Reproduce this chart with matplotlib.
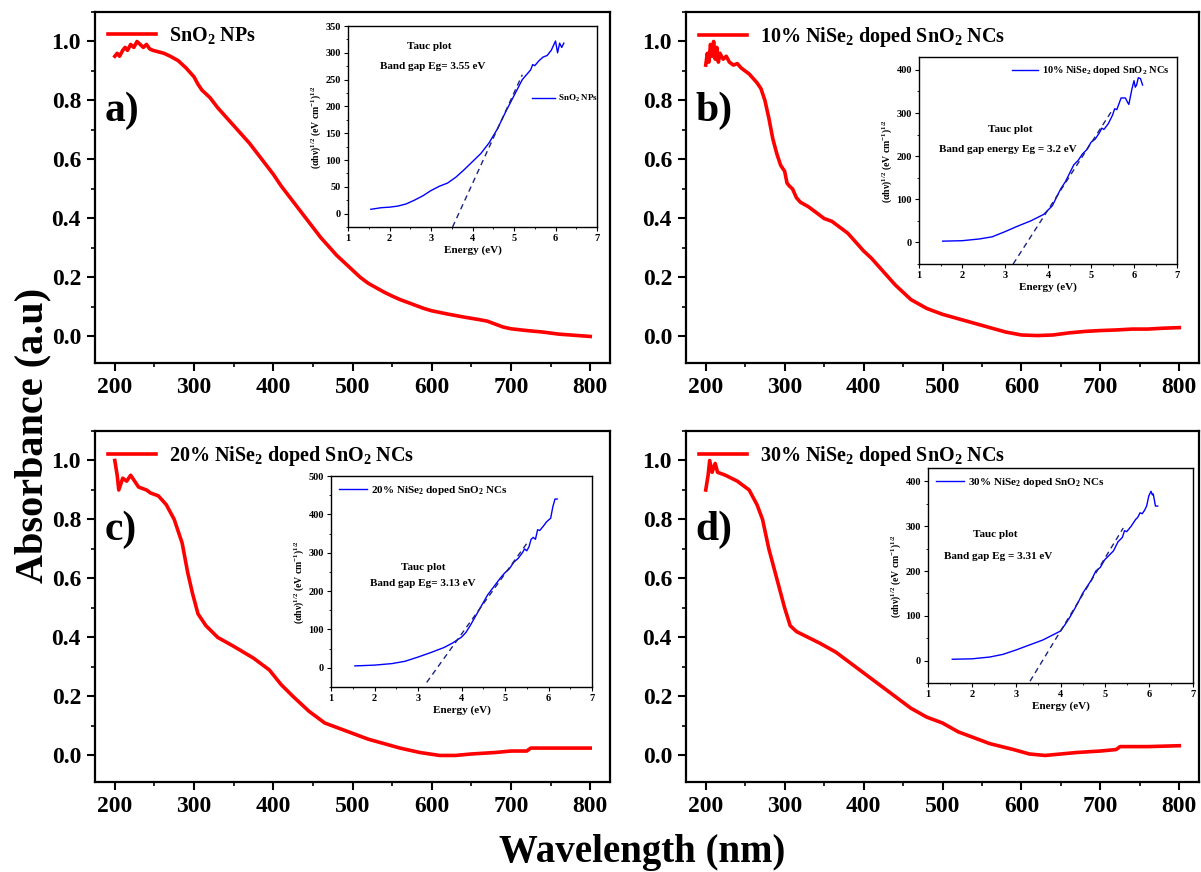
import matplotlib
matplotlib.use("Agg")
import matplotlib.pyplot as plt
from matplotlib.ticker import MultipleLocator

plt.rcParams['font.family'] = ['Liberation Serif', 'DejaVu Serif']
plt.rcParams['font.weight'] = 'bold'
plt.rcParams['mathtext.fontset'] = 'custom'
plt.rcParams['mathtext.rm'] = 'Liberation Serif:bold'
plt.rcParams['mathtext.it'] = 'Liberation Serif:bold:italic'
plt.rcParams['mathtext.bf'] = 'Liberation Serif:bold'

# ---------------- UV-Vis data ----------------
wl_a = [200, 203, 206, 210, 213, 216, 220, 224, 228, 232, 236, 240, 244, 248, 255, 262, 270, 280, 290, 300,
        305, 310, 320, 330, 340, 350, 360, 370, 380, 390, 400, 410, 420, 430, 440, 450, 460, 470, 480, 490,
        500, 510, 520, 530, 540, 550, 560, 570, 580, 590, 600, 620, 640, 660, 670, 680, 690, 700, 720, 740,
        760, 780, 800]
abs_a = [0.95, 0.96, 0.95, 0.97, 0.98, 0.97, 0.99, 0.98, 1.00, 0.99, 0.98, 0.99, 0.975, 0.97, 0.965, 0.96,
         0.95, 0.935, 0.91, 0.88, 0.855, 0.835, 0.81, 0.775, 0.745, 0.715, 0.685, 0.655, 0.62, 0.585, 0.55, 0.51,
         0.475, 0.44, 0.405, 0.37, 0.335, 0.305, 0.275, 0.25, 0.225, 0.20, 0.18, 0.165, 0.15, 0.137, 0.125,
         0.115, 0.105, 0.095, 0.087, 0.076, 0.066, 0.057, 0.052, 0.042, 0.032, 0.026, 0.02, 0.015, 0.008,
         0.004, 0.0]

wl_b = [200, 202, 204, 206, 208, 210, 212, 214, 216, 218, 222, 226, 230, 235, 240, 245, 250, 255, 260, 265,
        270, 275, 280, 285, 290, 295, 300, 303, 306, 310, 315, 320, 330, 340, 350, 360, 370, 380, 390, 400,
        410, 420, 430, 440, 450, 460, 470, 480, 490, 500, 520, 540, 560, 580, 600, 620, 640, 660, 680, 700,
        720, 740, 760, 780, 800]
abs_b = [0.92, 0.96, 0.93, 0.99, 0.95, 1.00, 0.94, 0.98, 0.93, 0.96, 0.94, 0.95, 0.93, 0.92, 0.925, 0.91,
         0.90, 0.89, 0.875, 0.86, 0.84, 0.80, 0.74, 0.67, 0.62, 0.58, 0.56, 0.52, 0.51, 0.50, 0.47, 0.455,
         0.44, 0.42, 0.40, 0.39, 0.37, 0.35, 0.32, 0.29, 0.265, 0.235, 0.205, 0.175, 0.15, 0.125, 0.11, 0.095,
         0.085, 0.075, 0.06, 0.045, 0.03, 0.015, 0.005, 0.003, 0.005, 0.012, 0.017, 0.02, 0.022, 0.025,
         0.025, 0.028, 0.03]

wl_c = [200, 203, 205, 210, 215, 220, 230, 240, 245, 255, 265, 275, 285, 292, 298, 305, 315, 330, 350, 375,
        395, 410, 425, 445, 465, 485, 505, 520, 540, 560, 585, 610, 630, 650, 680, 700, 720, 725, 760, 800]
abs_c = [1.00, 0.95, 0.90, 0.94, 0.93, 0.95, 0.91, 0.90, 0.89, 0.88, 0.85, 0.80, 0.72, 0.62, 0.55, 0.48,
         0.44, 0.40, 0.37, 0.33, 0.29, 0.24, 0.20, 0.15, 0.11, 0.09, 0.07, 0.055, 0.04, 0.025, 0.01, 0.0,
         0.0, 0.005, 0.01, 0.015, 0.015, 0.025, 0.025, 0.025]

wl_d = [200, 203, 205, 208, 212, 215, 225, 240, 255, 265, 272, 280, 290, 300, 307, 315, 330, 345, 365, 385,
        400, 420, 440, 460, 480, 500, 520, 540, 560, 590, 610, 630, 650, 670, 700, 720, 725, 760, 800]
abs_d = [0.90, 0.95, 1.00, 0.96, 0.99, 0.96, 0.95, 0.93, 0.90, 0.85, 0.80, 0.70, 0.60, 0.50, 0.44, 0.42,
         0.40, 0.38, 0.35, 0.31, 0.28, 0.24, 0.20, 0.16, 0.13, 0.11, 0.08, 0.06, 0.04, 0.02, 0.005, 0.0,
         0.005, 0.01, 0.015, 0.02, 0.03, 0.03, 0.033]

labels_main = ["SnO$_\\mathregular{2}$ NPs",
               "10% NiSe$_\\mathregular{2}$ doped SnO$_\\mathregular{2}$ NCs",
               "20% NiSe$_\\mathregular{2}$ doped SnO$_\\mathregular{2}$ NCs",
               "30% NiSe$_\\mathregular{2}$ doped SnO$_\\mathregular{2}$ NCs"]
panel_tags = ["a)", "b)", "c)", "d)"]

# ---------------- Tauc data ----------------
E_a = [1.55, 1.8, 2.0, 2.2, 2.4, 2.6, 2.8, 3.0, 3.2, 3.4, 3.6, 3.8, 4.0, 4.2, 4.4, 4.5, 4.6, 4.8, 5.0, 5.2,
       5.4, 5.45, 5.5, 5.6, 5.7, 5.8, 5.9, 6.0, 6.05, 6.1, 6.15, 6.2]
T_a = [8, 11, 12, 14, 18, 25, 33, 43, 51, 57, 68, 82, 97, 112, 132, 145, 158, 190, 220, 250, 268, 278, 276,
       285, 292, 295, 305, 322, 300, 318, 310, 318]
E_b = [1.55, 2.0, 2.4, 2.7, 3.0, 3.3, 3.6, 3.9, 4.0, 4.1, 4.2, 4.3, 4.4, 4.5, 4.6, 4.7, 4.8, 4.9, 5.0, 5.1,
       5.2, 5.25, 5.3, 5.4, 5.5, 5.55, 5.6, 5.7, 5.8, 5.85, 5.88, 5.95, 6.0, 6.03, 6.06, 6.1, 6.15, 6.2]
T_b = [3, 4, 8, 13, 25, 38, 50, 65, 75, 85, 105, 125, 140, 160, 180, 190, 205, 215, 232, 240, 255, 265, 262,
       275, 295, 310, 308, 335, 335, 325, 320, 355, 375, 360, 365, 382, 380, 365]
E_c = [1.55, 2.0, 2.4, 2.7, 3.0, 3.3, 3.6, 3.8, 4.0, 4.1, 4.2, 4.3, 4.4, 4.5, 4.6, 4.7, 4.8, 4.9, 5.0, 5.1,
       5.2, 5.3, 5.4, 5.45, 5.5, 5.55, 5.6, 5.65, 5.7, 5.75, 5.8, 5.9, 5.95, 6.0, 6.05, 6.1, 6.15, 6.2]
T_c = [5, 7, 11, 17, 28, 40, 53, 65, 80, 92, 110, 130, 150, 170, 190, 205, 220, 235, 248, 258, 275, 285,
       300, 310, 305, 315, 335, 340, 335, 360, 358, 372, 380, 385, 390, 420, 440, 440]
E_d = [1.55, 2.0, 2.4, 2.7, 3.0, 3.3, 3.6, 3.8, 4.0, 4.1, 4.2, 4.3, 4.4, 4.5, 4.6, 4.7, 4.8, 4.9, 5.0, 5.1,
       5.2, 5.3, 5.4, 5.45, 5.5, 5.6, 5.7, 5.75, 5.8, 5.85, 5.9, 5.95, 6.0, 6.05, 6.08, 6.1, 6.15, 6.2]
T_d = [3, 4, 8, 14, 24, 35, 46, 56, 66, 80, 95, 112, 130, 150, 165, 180, 200, 208, 225, 235, 245, 265, 275,
       290, 288, 300, 315, 320, 330, 328, 335, 345, 368, 378, 370, 372, 345, 345]

fit_a_x = [3.52, 5.20]; fit_a_y = [-25, 259]
fit_b_x = [3.19, 5.49]; fit_b_y = [-50, 306]
fit_c_x = [3.20, 5.50]; fit_c_y = [-38, 324]
fit_d_x = [3.31, 5.42]; fit_d_y = [-46, 296]

tauc_labels = ["SnO$_\\mathregular{2}$ NPs",
               "10% NiSe$_\\mathregular{2}$ doped SnO$_\\mathregular{2}$ NCs",
               "20% NiSe$_\\mathregular{2}$ doped SnO$_\\mathregular{2}$ NCs",
               "30% NiSe$_\\mathregular{2}$ doped SnO$_\\mathregular{2}$ NCs"]
gap_texts = ["Band gap Eg= 3.55 eV", "Band gap energy Eg = 3.2 eV",
             "Band gap Eg= 3.13 eV", "Band gap Eg = 3.31 eV"]
tauc_pos = [(2.96, 311), (3.12, 262), (3.12, 261), (2.52, 281)]
gap_pos = [(3.04, 274), (3.07, 216), (3.12, 219), (2.59, 232)]
inset_ylims = [(-25, 350), (-50, 430), (-50, 500), (-50, 430)]
inset_yticks = [(0, 350, 50), (0, 400, 100), (0, 500, 100), (0, 400, 100)]

# ---------------- layout ----------------
W, H = 1201, 872
fig = plt.figure(figsize=(W / 100, H / 100), dpi=100)


def rect(l, t, r, b):
    return [l / W, 1 - b / H, (r - l) / W, (b - t) / H]


main_rects = [(95, 12, 610, 363), (686, 12, 1199, 363), (95, 431, 610, 782), (686, 431, 1199, 782)]
inset_rects = [(348, 26, 597, 227), (919, 57, 1177, 264), (331, 476, 592, 687), (928, 468, 1193, 683)]

wls = [wl_a, wl_b, wl_c, wl_d]
absv = [abs_a, abs_b, abs_c, abs_d]
Es = [E_a, E_b, E_c, E_d]
Ts = [T_a, T_b, T_c, T_d]
fits = [(fit_a_x, fit_a_y), (fit_b_x, fit_b_y), (fit_c_x, fit_c_y), (fit_d_x, fit_d_y)]
leg_locs = [dict(loc='center right', bbox_to_anchor=(1.03, 0.64)),
            dict(loc='upper right', bbox_to_anchor=(1.0, 1.0)),
            dict(loc='upper left', bbox_to_anchor=(0.0, 1.0)),
            dict(loc='upper left', bbox_to_anchor=(0.0, 1.0))]
leg_sizes = [6.5, 7.5, 8, 8]

for i in range(4):
    ax = fig.add_axes(rect(*main_rects[i]))
    ax.plot(wls[i], absv[i], color='#ff0000', lw=2.6, label=labels_main[i])
    ax.set_xlim(175, 825)
    ax.set_ylim(-0.09, 1.1)
    ax.xaxis.set_major_locator(MultipleLocator(100))
    ax.xaxis.set_minor_locator(MultipleLocator(50))
    ax.yaxis.set_minor_locator(MultipleLocator(0.1))
    ax.set_yticks([0.0, 0.2, 0.4, 0.6, 0.8, 1.0])
    ax.set_yticklabels(['0.0', '0.2', '0.4', '0.6', '0.8', '1.0'])
    ax.tick_params(which='major', direction='out', length=6, width=1.5, labelsize=17, pad=4)
    ax.tick_params(which='minor', direction='out', length=3, width=1.2)
    for lab in ax.get_xticklabels() + ax.get_yticklabels():
        lab.set_fontweight('bold')
    for s in ax.spines.values():
        s.set_linewidth(1.6)
    ax.legend(loc='upper left', frameon=False, handlelength=2.4, handletextpad=0.6,
              borderaxespad=0.25, prop={'weight': 'bold', 'size': 14.5})
    ax.text(0.018, 0.72, panel_tags[i], transform=ax.transAxes, fontsize=30,
            fontweight='bold', va='center', ha='left')

    ins = fig.add_axes(rect(*inset_rects[i]))
    ins.plot(Es[i], Ts[i], color='#0000ff', lw=1.0, label=tauc_labels[i])
    ins.plot(fits[i][0], fits[i][1], color='#1a237e', lw=1.0, ls=(0, (4, 3)))
    ins.set_xlim(1, 7)
    ins.set_ylim(*inset_ylims[i])
    y0, y1, st = inset_yticks[i]
    ins.set_yticks(list(range(y0, y1 + 1, st)))
    ins.xaxis.set_major_locator(MultipleLocator(1))
    ins.xaxis.set_minor_locator(MultipleLocator(0.5))
    ins.yaxis.set_minor_locator(MultipleLocator(st / 2))
    ins.tick_params(which='major', direction='out', length=3, width=0.8, labelsize=7.5, pad=2)
    ins.tick_params(which='minor', direction='out', length=1.5, width=0.6)
    for lab in ins.get_xticklabels() + ins.get_yticklabels():
        lab.set_fontweight('bold')
    for s in ins.spines.values():
        s.set_linewidth(1.0)
    ins.set_xlabel('Energy (eV)', fontsize=8, fontweight='bold', labelpad=2)
    ins.set_ylabel('(\u03b1h\u03bd)$^\\mathregular{1/2}$ (eV cm$^\\mathregular{-1}$)$^\\mathregular{1/2}$',
                   fontsize=7, fontweight='bold', labelpad=2)
    ins.text(*tauc_pos[i], 'Tauc plot', fontsize=8, fontweight='bold', ha='center', va='center')
    ins.text(*gap_pos[i], gap_texts[i], fontsize=8, fontweight='bold', ha='center', va='center')
    ins.legend(frameon=False, handlelength=2.5, borderaxespad=0.3, handletextpad=0.4,
               prop={'weight': 'bold', 'size': leg_sizes[i]}, **leg_locs[i])

fig.text(642 / W, 1 - 852 / H, 'Wavelength (nm)', fontsize=28, fontweight='bold',
         ha='center', va='center')
fig.text(33 / W, 1 - 435 / H, 'Absorbance (a.u)', fontsize=29, fontweight='bold',
         ha='center', va='center', rotation=90)

fig.savefig('out.png', dpi=100)
